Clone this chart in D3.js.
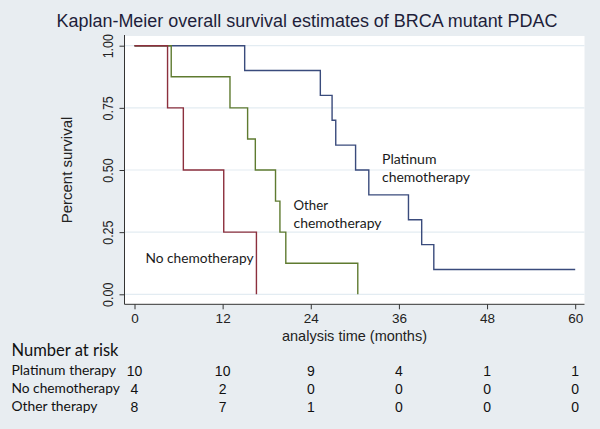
<!DOCTYPE html>
<html><head><meta charset="utf-8">
<script src="https://cdn.jsdelivr.net/npm/d3@7"></script>
<style>body{margin:0;background:#e8edf1;} svg{display:block;}</style>
</head><body>
<svg id="chart" width="600" height="429"></svg>
<script>
// ---- data ----
const titleText = "Kaplan-Meier overall survival estimates of BRCA mutant PDAC";
const xTicks = [0, 12, 24, 36, 48, 60];
const yTicks = [0, 0.25, 0.5, 0.75, 1.0];
// step curves: [time, survival after time]
const platinumTimes = [0, 15, 25.3, 26.9, 27.4, 30.1, 31.9, 37.3, 39.1, 40.75, 60];
const platinumSurv  = [1, 0.9, 0.8, 0.7, 0.6, 0.5, 0.4, 0.3, 0.2, 0.1, 0.1];
const noChemoTimes  = [0, 4.5, 6.65, 12.15, 16.6];
const noChemoSurv   = [1, 0.75, 0.5, 0.25, 0];
const otherTimes    = [0, 5, 13, 15.4, 16.45, 19.2, 19.8, 20.6, 30.4];
const otherSurv     = [1, 0.875, 0.75, 0.625, 0.5, 0.375, 0.25, 0.125, 0];
const riskGroups = ["Platinum therapy", "No chemotherapy", "Other therapy"];
const riskPlatinum = [10, 10, 9, 4, 1, 1];
const riskNoChemo  = [4, 2, 0, 0, 0, 0];
const riskOther    = [8, 7, 1, 0, 0, 0];

const svg = d3.select("#chart");
const W = 600, H = 429;
svg.append("rect").attr("width", W).attr("height", H).attr("fill", "#e8edf1");

const plot = {left: 124.5, right: 584.5, top: 36, bottom: 304.3};
const x = d3.scaleLinear().domain([0, 60]).range([134.5, 575.2]);
const y = d3.scaleLinear().domain([0, 1]).range([294.3, 45.7]);

svg.append("rect").attr("x", plot.left).attr("y", plot.top)
  .attr("width", plot.right - plot.left).attr("height", plot.bottom - plot.top)
  .attr("fill", "#ffffff");

// gridlines
svg.append("g").selectAll("line").data(yTicks).join("line")
  .attr("x1", plot.left).attr("x2", plot.right)
  .attr("y1", d => y(d)).attr("y2", d => y(d))
  .attr("stroke", "#e3ecf2").attr("stroke-width", 1.2);

const fontA = "'Liberation Sans', Arial, sans-serif";
const fontC = "Lato, 'Open Sans', sans-serif";

// y axis
const yAxis = d3.axisLeft(y).tickValues(yTicks).tickFormat(d3.format(".2f")).tickSize(5).tickPadding(4);
const gy = svg.append("g").attr("transform", `translate(${plot.left},0)`).call(yAxis);
gy.select(".domain").remove();
gy.append("line").attr("x1", 0).attr("x2", 0).attr("y1", plot.top - 1).attr("y2", plot.bottom).attr("stroke", "#333").attr("stroke-width", 1);
gy.selectAll(".tick line").attr("stroke", "#333");
gy.selectAll(".tick text")
  .attr("font-family", fontA).attr("font-size", 12.5).attr("fill", "#222")
  .attr("text-anchor", "middle").attr("x", null)
  .attr("transform", "translate(-16.5,0) rotate(-90) scale(1,1.2)")
  .attr("dy", "0.35em");

// x axis
const xAxis = d3.axisBottom(x).tickValues(xTicks).tickSize(5).tickPadding(4);
const gx = svg.append("g").attr("transform", `translate(0,${plot.bottom})`).call(xAxis);
gx.select(".domain").remove();
gx.append("line").attr("x1", plot.left).attr("x2", plot.right).attr("y1", 0).attr("y2", 0).attr("stroke", "#333");
gx.selectAll(".tick line").attr("stroke", "#333");
gx.selectAll(".tick text").attr("font-family", fontA).attr("font-size", 13.5).attr("fill", "#222");

// axis titles
svg.append("text").attr("x", (plot.left + plot.right) / 2).attr("y", 341)
  .attr("text-anchor", "middle").attr("font-family", fontA).attr("font-size", 14.5).attr("fill", "#222")
  .text("analysis time (months)");
svg.append("text").attr("transform", `translate(72,${(y(0) + y(1)) / 2}) rotate(-90)`)
  .attr("text-anchor", "middle").attr("font-family", fontA).attr("font-size", 15).attr("fill", "#222")
  .text("Percent survival");

// title
svg.append("text").attr("x", 307).attr("y", 27).attr("text-anchor", "middle")
  .attr("font-family", fontA).attr("font-size", 17.5).attr("fill", "#1e1e3a")
  .attr("textLength", 501).attr("lengthAdjust", "spacingAndGlyphs")
  .text(titleText);

// curves
const stepLine = d3.line().x(d => x(d[0])).y(d => y(d[1])).curve(d3.curveStepAfter);
const series = [
  {t: platinumTimes, s: platinumSurv, color: "#3a4b7c"},
  {t: otherTimes, s: otherSurv, color: "#5f7b30"},
  {t: noChemoTimes, s: noChemoSurv, color: "#8c2f3d"}
];
series.forEach(sr => {
  const pts = sr.t.map((t, i) => [t, sr.s[i]]);
  svg.append("path").attr("d", stepLine(pts)).attr("fill", "none")
    .attr("stroke", sr.color).attr("stroke-width", 1.4);
});

// annotations
function label(lines, x0, y0, lens) {
  const t = svg.append("text").attr("font-family", fontC).attr("font-size", 14).attr("fill", "#1a1a1a");
  lines.forEach((l, i) => t.append("tspan").attr("x", x0).attr("y", y0 + i * 17.5)
    .attr("textLength", lens[i]).attr("lengthAdjust", "spacingAndGlyphs").text(l));
}
label(["Platinum", "chemotherapy"], 382, 164, [54.5, 88]);
label(["Other", "chemotherapy"], 293.5, 210, [34.5, 88]);
label(["No chemotherapy"], 145.5, 263, [108]);

// number at risk
svg.append("text").attr("x", 11.5).attr("y", 356).attr("font-family", fontC).attr("font-size", 17)
  .attr("fill", "#111").attr("textLength", 107).attr("lengthAdjust", "spacingAndGlyphs").text("Number at risk");
const riskRows = [riskPlatinum, riskNoChemo, riskOther];
const riskLens = [104.5, 108.3, 86];
riskRows.forEach((row, i) => {
  const yy = 374.5 + i * 18;
  svg.append("text").attr("x", 11.5).attr("y", yy).attr("font-family", fontC).attr("font-size", 14)
    .attr("fill", "#111").attr("textLength", riskLens[i]).attr("lengthAdjust", "spacingAndGlyphs").text(riskGroups[i]);
  svg.append("g").selectAll("text").data(row).join("text")
    .attr("x", (d, j) => x(xTicks[j])).attr("y", yy + 1)
    .attr("text-anchor", "middle").attr("font-family", fontA).attr("font-size", 14).attr("fill", "#111")
    .text(d => d);
});
</script>
</body></html>
